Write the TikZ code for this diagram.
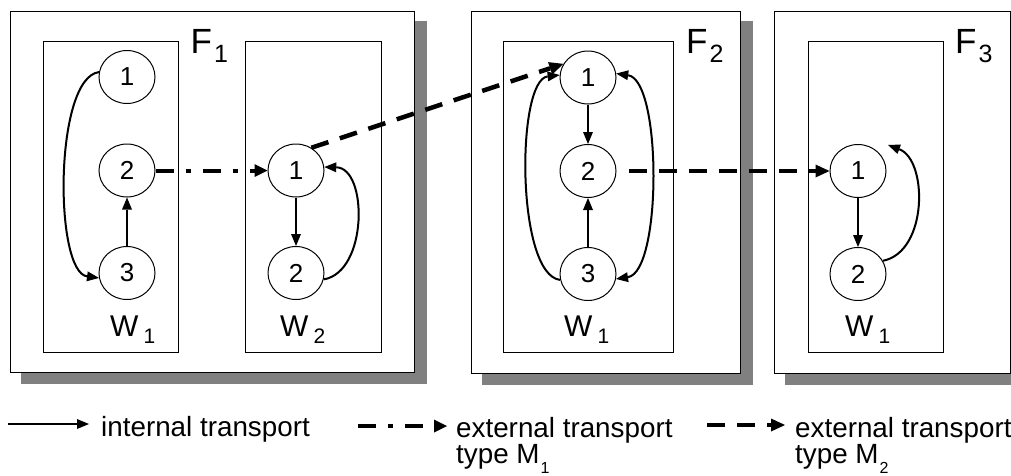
\documentclass[tikz,border=0pt]{standalone}
\usepackage{fontspec}
\setmainfont{Liberation Sans}
\usetikzlibrary{arrows.meta,shapes.geometric}
\definecolor{shadowgray}{RGB}{128,128,128}
\pgfdeclarelayer{bg}
\pgfsetlayers{bg,main}
\newcommand\Fsub[1]{\hspace{2pt}\raisebox{-9pt}{\fontsize{25}{25}\selectfont #1}}
\newcommand\Wsub[1]{\hspace{5pt}\raisebox{-7pt}{\fontsize{21}{21}\selectfont #1}}
\newcommand\Msub[1]{\hspace{1pt}\raisebox{-10pt}{\fontsize{16}{16}\selectfont #1}}
\begin{document}
\begin{tikzpicture}[x=1pt,y=-1pt,
 fbox/.style={draw=black,fill=white,line width=1pt,anchor=north west,inner sep=0pt},
 wbox/.style={draw=black,line width=1pt,anchor=north west,inner sep=0pt},
 st/.style={ellipse,draw=black,line width=1pt,minimum width=56pt,minimum height=53pt,inner sep=0pt,font=\fontsize{26}{26}\selectfont},
 flab/.style={anchor=base west,inner sep=0pt,font=\fontsize{35}{35}\selectfont},
 wlab/.style={anchor=base west,inner sep=0pt,font=\fontsize{30}{30}\selectfont},
 leg/.style={anchor=base west,inner sep=0pt,font=\fontsize{27.8}{27.8}\selectfont},
 int/.style={line width=2pt,-{Triangle[length=12pt,width=10pt,line width=0pt]}},
 intboth/.style={line width=2pt,{Triangle[length=12pt,width=10pt,line width=0pt]}-{Triangle[length=12pt,width=10pt,line width=0pt]}},
 extA/.style={line width=4pt,dash pattern=on 18pt off 12pt on 5pt off 12pt,-{Triangle[length=13pt,width=13pt,line width=0pt]}},
 extB/.style={line width=4.5pt,dash pattern=on 18pt off 12pt,-{Triangle[length=14pt,width=13pt,line width=0pt]}}
]
\useasboundingbox (0,0) rectangle (1011,475);
% factory boxes
\node[fbox,minimum width=404pt,minimum height=361pt] (F1) at (10,11) {};
\node[fbox,minimum width=269.3pt,minimum height=362pt] (F2) at (470.7,10.7) {};
\node[fbox,minimum width=236pt,minimum height=362pt] (F3) at (774,10.7) {};
\begin{pgfonlayer}{bg}
\foreach \f in {F1,F2,F3}{
  \fill[shadowgray] ([shift={(11,10)}]\f.north west) rectangle ([shift={(12,11)}]\f.south east);
}
\end{pgfonlayer}
% warehouse boxes
\node[wbox,minimum width=135pt,minimum height=311pt] (W11) at (43,41) {};
\node[wbox,minimum width=136pt,minimum height=311pt] (W12) at (245,41) {};
\node[wbox,minimum width=169.4pt,minimum height=311pt] (W21) at (503.3,41.3) {};
\node[wbox,minimum width=135pt,minimum height=311pt] (W31) at (807.7,41.3) {};
% labels
\node[flab] (F1l) at (190.5,53) {F\Fsub{1}};
\node[flab] (F2l) at (686,53) {F\Fsub{2}};
\node[flab] (F3l) at (955,53) {F\Fsub{3}};
\node[wlab] (W11l) at (110,336) {W\Wsub{1}};
\node[wlab] (W12l) at (280,336) {W\Wsub{2}};
\node[wlab] (W21l) at (564,336) {W\Wsub{1}};
\node[wlab] (W31l) at (845,336) {W\Wsub{1}};
% states
\node[st] (a1) at (127,77) {1};
\node[st] (a2) at (127,170.5) {2};
\node[st] (a3) at (127,273) {3};
\node[st] (b1) at (296,170.5) {1};
\node[st] (b2) at (296,273) {2};
\node[st] (c1) at (588,77.5) {1};
\node[st] (c2) at (588,171) {2};
\node[st] (c3) at (588,274) {3};
\node[st] (d1) at (858,171) {1};
\node[st] (d2) at (858,274) {2};
\coordinate (d1t) at (888,145);
% internal transport
\draw[int] (a1.170) .. controls (54,78) and (54,272) .. (a3.190);
\draw[int] (a3) -- (a2);
\draw[int] (b1) -- (b2);
\draw[int] (b2.-13) .. controls (368,272) and (368,168) .. (b1.7);
\draw[int] (c1) -- (c2);
\draw[int] (c3) -- (c2);
\draw[int] (c3.192) .. controls (516,275) and (516,80) .. (c1.175);
\draw[intboth] (c1.8) .. controls (662,80) and (662,272) .. (c3.-10);
\draw[int] (d1) -- (d2);
\draw[int] (d2.28) .. controls (928,252) and (928,160) .. (d1t);
% external transport
\draw[extA] (a2.east) -- (b1.west);
\draw[extB] (b1.56) -- (c1.151);
\draw[extB,shorten <=12pt] (c2.east) -- (d1.west);
% legend
\coordinate (l1s) at (8,424);
\coordinate (l1e) at (89,424);
\coordinate (l2s) at (358,426);
\coordinate (l2e) at (447,426);
\coordinate (l3s) at (707,425);
\coordinate (l3e) at (785,425);
\draw[int] (l1s) -- (l1e);
\draw[extA] (l2s) -- (l2e);
\draw[extB] (l3s) -- (l3e);
\node[leg] (t1) at (101,436) {internal transport};
\node[leg] (t2a) at (456,437) {external transport};
\node[leg] (t2b) at (456,463) {type M\Msub{1}};
\node[leg] (t3a) at (795,437) {external transport};
\node[leg] (t3b) at (795,463) {type M\Msub{2}};
\end{tikzpicture}
\end{document}
